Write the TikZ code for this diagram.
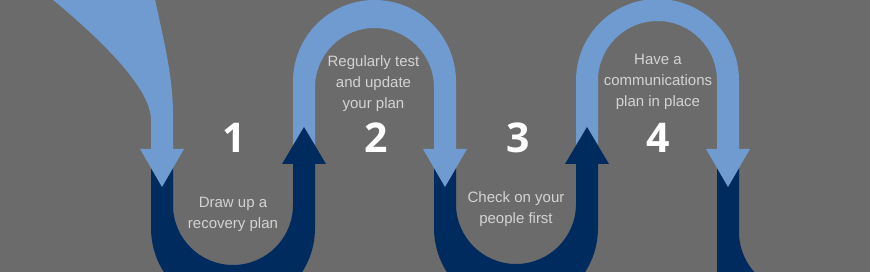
\documentclass[tikz,border=0pt]{standalone}
\usepackage{fontspec}
\newfontfamily\labfont{Liberation Sans}
\newfontfamily\numfont{Open Sans}
\definecolor{bggray}{HTML}{6B6B6B}
\definecolor{lightblue}{HTML}{6F9BD1}
\definecolor{navy}{HTML}{002B5E}
\definecolor{labgray}{HTML}{D3D3D3}
\begin{document}
\begin{tikzpicture}[x=1pt,y=-1pt,
  lightband/.style={fill=lightblue},
  darkband/.style={fill=navy},
  steptext/.style={text=labgray,font=\labfont\fontsize{15}{21}\selectfont,align=center,inner sep=0pt},
  stepnum/.style={text=white,font=\numfont\bfseries\fontsize{41}{41}\selectfont,inner sep=0pt}]
\useasboundingbox (0,0) rectangle (870,272);
\clip (0,0) rectangle (870,272);
\fill[bggray] (0,0) rectangle (870,272);
% light bands
\fill[lightband] (52,-1) -- (155,-1) .. controls (163,38) and (173,75) .. (173,115)
  -- (173,149) -- (151,149) -- (151,120) .. controls (151,85) and (91,31.5) .. (52,-1) -- cycle;
\fill[lightband] (293,147) -- (293,81.5) arc[start angle=180,end angle=360,radius=81.5]
  -- (456,149) -- (434,149) -- (434,87.5) arc[start angle=0,end angle=-180,radius=59.5]
  -- (315,147) -- cycle;
\fill[lightband] (576,147) -- (576,80.5) arc[start angle=180,end angle=360,radius=81.5]
  -- (739,149) -- (717,149) -- (717,80.5) arc[start angle=0,end angle=-180,radius=59.5]
  -- (598,147) -- cycle;
% dark bands
\fill[darkband] (151,168) -- (151,228) arc[start angle=180,end angle=0,radius=82]
  -- (315,164) -- (293,164) -- (293,205) arc[start angle=0,end angle=180,radius=60]
  -- (173,168) -- cycle;
\fill[darkband] (434,168) -- (434,228) arc[start angle=180,end angle=0,radius=82]
  -- (598,164) -- (576,164) -- (576,204) arc[start angle=0,end angle=180,radius=60]
  -- (456,168) -- cycle;
\fill[darkband] (717,168) -- (717,300) -- (799,300) -- (799,292)
  arc[start angle=90,end angle=180,radius=60] -- (739,168) -- cycle;
% arrowheads
\fill[lightband] (140,149) -- (184,149) -- (162,187) -- cycle;
\fill[lightband] (423,149) -- (467,149) -- (445,187) -- cycle;
\fill[lightband] (706,149) -- (750,149) -- (728,187) -- cycle;
\fill[darkband] (282,164) -- (326,164) -- (304,127) -- cycle;
\fill[darkband] (565,164) -- (609,164) -- (587,127) -- cycle;
% texts
\node[stepnum] (n1) at (234,138) {1};
\node[stepnum] (n2) at (376,138) {2};
\node[stepnum] (n3) at (518,138) {3};
\node[stepnum] (n4) at (658,138) {4};
\node[steptext] (t1) at (233,214.2) {Draw up a\\recovery plan};
\node[steptext] (t2) at (373.5,83.7) {Regularly test\\and update\\your plan};
\node[steptext] (t3) at (516,209.2) {Check on your\\people first};
\node[steptext] (t4) at (658,81.7) {Have a\\communications\\plan in place};
\end{tikzpicture}
\end{document}
